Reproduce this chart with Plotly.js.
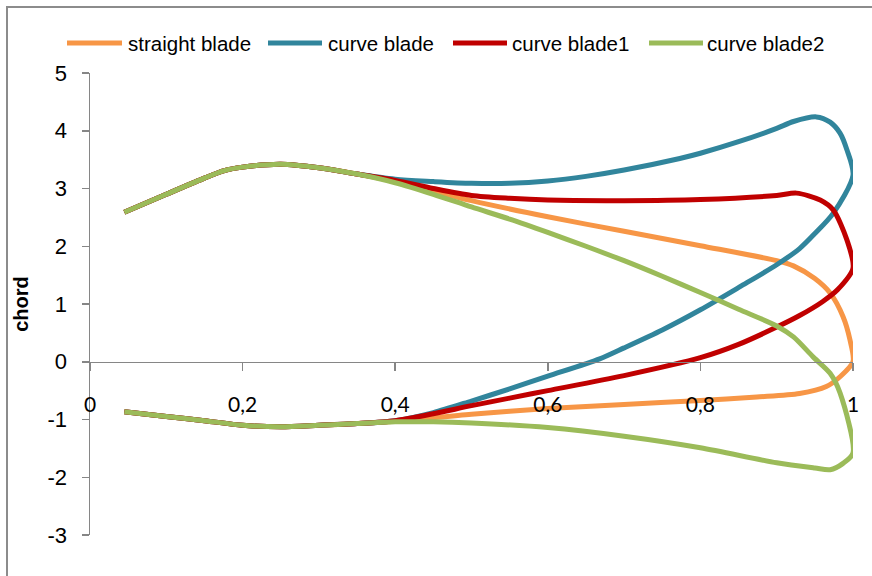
<!DOCTYPE html>
<html>
<head>
<meta charset="utf-8">
<script src="https://cdn.plot.ly/plotly-3.0.1.min.js"></script>
<style>html,body{margin:0;padding:0;background:#fff;}#chart{width:872px;height:576px;}</style>
</head>
<body>
<div id="chart"></div>
<script>
// ---- data ----
const seriesNames = ["straight blade", "curve blade", "curve blade1", "curve blade2"];
const seriesColors = ["#F79646", "#31859C", "#C00000", "#9BBB59"];

const straightX = [0.045,0.1,0.15,0.176,0.2,0.25,0.3,0.35,0.4,0.5,0.6,0.7,0.8,0.9,0.922,0.95,0.97,0.987,0.996,1.0,
                   0.983,0.965,0.93,0.874,0.8,0.7,0.6,0.5,0.4,0.35,0.3,0.25,0.2,0.15,0.1,0.045];
const straightY = [2.59,2.90,3.18,3.31,3.37,3.42,3.36,3.25,3.12,2.79,2.51,2.26,2.01,1.75,1.66,1.44,1.19,0.78,0.38,0.0,
                   -0.26,-0.43,-0.55,-0.61,-0.67,-0.74,-0.81,-0.91,-1.03,-1.07,-1.10,-1.125,-1.10,-1.02,-0.95,-0.865];

const curveX = [0.045,0.1,0.15,0.176,0.2,0.25,0.3,0.35,0.4,0.45,0.5,0.55,0.6,0.65,0.7,0.773,0.8,0.85,0.9,0.922,0.952,0.97,0.983,0.992,1.0,
                0.974,0.95,0.93,0.9,0.852,0.8,0.75,0.7,0.668,0.6,0.55,0.5,0.45,0.4,0.35,0.3,0.25,0.2,0.15,0.1,0.045];
const curveY = [2.59,2.90,3.18,3.31,3.37,3.42,3.36,3.25,3.16,3.12,3.09,3.09,3.13,3.21,3.32,3.52,3.61,3.81,4.04,4.16,4.24,4.15,3.96,3.67,3.23,
                2.57,2.22,1.96,1.68,1.30,0.90,0.55,0.24,0.05,-0.25,-0.47,-0.68,-0.88,-1.02,-1.07,-1.10,-1.125,-1.10,-1.02,-0.95,-0.865];

const curve1X = [0.045,0.1,0.15,0.176,0.2,0.25,0.3,0.35,0.4,0.45,0.5,0.55,0.6,0.7,0.8,0.9,0.926,0.957,0.974,0.992,1.0,
                 0.98,0.96,0.93,0.9,0.85,0.8,0.7,0.6,0.55,0.5,0.45,0.4,0.35,0.3,0.25,0.2,0.15,0.1,0.045];
const curve1Y = [2.59,2.90,3.18,3.31,3.37,3.42,3.36,3.25,3.14,3.00,2.88,2.83,2.80,2.79,2.81,2.88,2.92,2.80,2.63,2.11,1.62,
                 1.25,1.04,0.80,0.60,0.30,0.07,-0.24,-0.50,-0.63,-0.76,-0.90,-1.02,-1.07,-1.10,-1.125,-1.10,-1.02,-0.95,-0.865];

const curve2X = [0.045,0.1,0.15,0.176,0.2,0.25,0.3,0.35,0.4,0.45,0.5,0.55,0.6,0.65,0.7,0.75,0.8,0.85,0.9,0.922,0.948,0.97,0.983,1.0,
                 0.987,0.97,0.95,0.9,0.8,0.7,0.6,0.5,0.45,0.4,0.35,0.3,0.25,0.2,0.15,0.1,0.045];
const curve2Y = [2.59,2.90,3.18,3.31,3.37,3.42,3.36,3.25,3.10,2.90,2.68,2.47,2.24,2.00,1.75,1.48,1.20,0.91,0.62,0.43,0.08,-0.20,-0.54,-1.58,
                 -1.76,-1.87,-1.84,-1.75,-1.49,-1.29,-1.14,-1.06,-1.04,-1.04,-1.07,-1.10,-1.125,-1.10,-1.02,-0.95,-0.865];

const xTicks = [0, 0.2, 0.4, 0.6, 0.8, 1];
const xTickText = ["0", "0,2", "0,4", "0,6", "0,8", "1"];
const yTicks = [-3, -2, -1, 0, 1, 2, 3, 4, 5];
const yTickText = ["-3", "-2", "-1", "0", "1", "2", "3", "4", "5"];
const yTitle = "chord";

// ---- layout helpers (pixel -> paper) ----
const W = 872, H = 576, ML = 90, MR = 19, MT = 73, MB = 41;
const PW = W - ML - MR, PH = H - MT - MB;
const px = v => (v - ML) / PW;
const py = v => (H - MB - v) / PH;

const xs = [straightX, curveX, curve1X, curve2X];
const ys = [straightY, curveY, curve1Y, curve2Y];

const traces = seriesNames.map((n, i) => ({
  type: "scatter", mode: "lines", name: n, x: xs[i], y: ys[i],
  line: {color: seriesColors[i], width: 5, shape: "spline", smoothing: 0.8},
  showlegend: false, hoverinfo: "x+y+name"
}));

// custom legend (line samples + real text)
const legLineX = [[67,122],[268,322],[453,507],[649,703]];
const legTextX = [126, 326, 510, 705];
const legY = 43;
const shapes = [{
  type: "rect", xref: "paper", yref: "paper",
  x0: px(7), x1: px(W + 20), y0: py(H + 20), y1: py(7),
  line: {color: "#8c8c8c", width: 2}, fillcolor: "rgba(0,0,0,0)", layer: "below"
}];
const annotations = [];
seriesNames.forEach((n, i) => {
  shapes.push({type: "line", xref: "paper", yref: "paper",
    x0: px(legLineX[i][0]), x1: px(legLineX[i][1]), y0: py(legY), y1: py(legY),
    line: {color: seriesColors[i], width: 5}});
  annotations.push({xref: "paper", yref: "paper", x: px(legTextX[i]), y: py(legY),
    xanchor: "left", yanchor: "middle", showarrow: false, text: n,
    font: {family: "Liberation Sans, Arial, sans-serif", size: 20.5, color: "#000"}});
});

const layout = {
  width: W, height: H,
  margin: {l: ML, r: MR, t: MT, b: MB, pad: 0},
  paper_bgcolor: "#fff", plot_bgcolor: "#fff",
  separators: ", ",
  showlegend: false,
  xaxis: {
    range: [0, 1], tickmode: "array", tickvals: xTicks, ticktext: xTickText,
    showgrid: false, zeroline: false, showline: true, linecolor: "#868686", linewidth: 1.5,
    ticks: "outside", ticklen: 8, tickcolor: "#868686", tickwidth: 1.5,
    anchor: "free", position: 3 / 8, ticklabelstandoff: 16,
    tickfont: {family: "Lato, Open Sans, sans-serif", size: 21, color: "#000"}
  },
  yaxis: {
    range: [-3, 5], tickmode: "array", tickvals: yTicks, ticktext: yTickText,
    showgrid: false, zeroline: false, showline: true, linecolor: "#868686", linewidth: 1.5,
    ticks: "outside", ticklen: 7, tickcolor: "#868686", tickwidth: 1.5,
    ticklabelstandoff: 10,
    tickfont: {family: "Liberation Sans, Arial, sans-serif", size: 22, color: "#000"},
    title: {text: yTitle, standoff: 13, font: {family: "Liberation Sans, Arial, sans-serif", size: 20, color: "#000", weight: "bold"}}
  },
  shapes: shapes,
  annotations: annotations
};

Plotly.newPlot("chart", traces, layout, {staticPlot: true, displayModeBar: false});
</script>
</body>
</html>
